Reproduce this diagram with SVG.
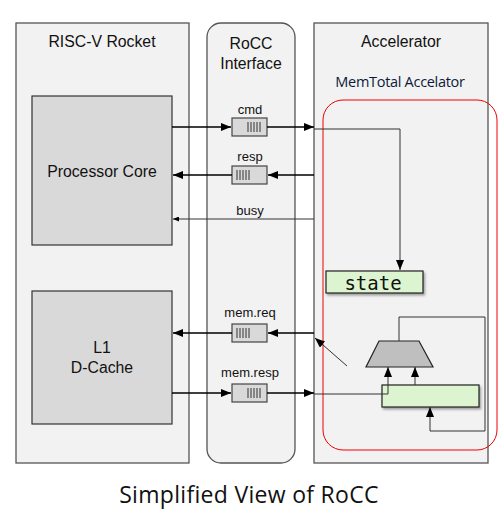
<svg xmlns="http://www.w3.org/2000/svg" width="498" height="525" viewBox="0 0 498 525">
<defs>
<marker id="ah" markerWidth="10" markerHeight="8" refX="10" refY="4" orient="auto" markerUnits="userSpaceOnUse"><path d="M0,0 L10,4 L0,8 Z" fill="#000"/></marker>
<marker id="ahs" markerWidth="6" markerHeight="5" refX="6" refY="2.5" orient="auto" markerUnits="userSpaceOnUse"><path d="M0,0 L6,2.5 L0,5 Z" fill="#000"/></marker>
<filter id="sh" x="-10%" y="-20%" width="130%" height="160%"><feDropShadow dx="1.5" dy="2" stdDeviation="1.2" flood-color="#000" flood-opacity="0.35"/></filter>
</defs>
<style>
.panel{fill:#f2f2f2;stroke:#555;stroke-width:1.3}
.blk{fill:#d9d9d9;stroke:#333;stroke-width:1.2}
.q{fill:#d9d9d9;stroke:#444;stroke-width:1.2}
.bar{stroke:#333;stroke-width:1}
.t{font-family:"Liberation Sans",Arial,sans-serif;fill:#111;text-anchor:middle}
.big{font-size:15.8px}
.sm{font-size:13px}
.w{stroke:#000;stroke-width:1.6;fill:none}
.thin{stroke:#333;stroke-width:1;fill:none}
.grn{fill:#dcf5d0;stroke:#222;stroke-width:1.2}
</style>
<g id="rocket">
<rect class="panel" x="16" y="23" width="173" height="440"/>
<text class="t big" x="102" y="47">RISC-V Rocket</text>
</g>
<g id="rocc">
<rect class="panel" x="207" y="23" width="88" height="440" rx="14"/>
<text class="t big" x="251" y="49">RoCC</text>
<text class="t big" x="251" y="69">Interface</text>
</g>
<g id="accelerator">
<rect class="panel" x="314" y="23" width="174" height="440"/>
<text class="t big" x="401" y="47">Accelerator</text>
<text x="400" y="87" font-family="'Open Sans','Noto Sans',sans-serif" font-size="14.5" fill="#0a1a3a" text-anchor="middle" letter-spacing="-0.3">MemTotal Accelator</text>
</g>
<g id="memtotal">
<rect x="323" y="100" width="174" height="350" rx="20" fill="none" stroke="#e00" stroke-width="1"/>
</g>
<g id="core">
<rect class="blk" x="32" y="96" width="140" height="149"/>
<text class="t big" x="102" y="177">Processor Core</text>
</g>
<g id="dcache">
<rect class="blk" x="32" y="291" width="140" height="133"/>
<text class="t big" x="102" y="353">L1</text>
<text class="t big" x="102" y="373">D-Cache</text>
</g>
<g id="cmd">
<text class="t sm" x="250" y="114">cmd</text>
<rect class="q" x="232" y="118" width="35" height="18"/>
<path class="bar" d="M248,122V132M251,122V132M254,122V132M257,122V132M260,122V132"/>
</g>
<g id="resp">
<text class="t sm" x="250" y="161">resp</text>
<rect class="q" x="232" y="166" width="35" height="18"/>
<path class="bar" d="M237,170V180M240,170V180M243,170V180M246,170V180M249,170V180"/>
</g>
<g id="busy">
<text class="t sm" x="250" y="215">busy</text>
</g>
<g id="memreq">
<text class="t sm" x="250" y="317">mem.req</text>
<rect class="q" x="232" y="324" width="35" height="18"/>
<path class="bar" d="M237,328V338M240,328V338M243,328V338M246,328V338M249,328V338"/>
</g>
<g id="memresp">
<text class="t sm" x="250" y="377">mem.resp</text>
<rect class="q" x="232" y="384" width="35" height="18"/>
<path class="bar" d="M248,388V398M251,388V398M254,388V398M257,388V398M260,388V398"/>
</g>
<g id="state">
<rect class="grn" x="326" y="271" width="97" height="22" filter="url(#sh)"/>
<text x="373" y="290" font-family="'DejaVu Sans Mono','Liberation Mono',monospace" font-size="19" fill="#111" text-anchor="middle">state</text>
</g>
<g id="mux">
<path d="M379,341 L419,341 L433,367 L366,367 Z" fill="#bfbfbf" stroke="#222" stroke-width="1.2"/>
</g>
<g id="reg">
<rect class="grn" x="382" y="385" width="97" height="22" filter="url(#sh)"/>
</g>
<g id="connectors">
<line class="w" x1="172" y1="127" x2="231" y2="127" marker-end="url(#ah)"/>
<line class="w" x1="267" y1="127" x2="314" y2="127" marker-end="url(#ah)"/>
<polyline class="thin" points="314,129 400,129 400,270" marker-end="url(#ah)"/>
<line class="w" x1="314" y1="175" x2="268" y2="175" marker-end="url(#ah)"/>
<line class="w" x1="232" y1="175" x2="173" y2="175" marker-end="url(#ah)"/>
<line class="thin" x1="314" y1="219" x2="173" y2="219" marker-end="url(#ahs)"/>
<line class="w" x1="314" y1="333" x2="268" y2="333" marker-end="url(#ah)"/>
<line class="w" x1="232" y1="333" x2="173" y2="333" marker-end="url(#ah)"/>
<line class="w" x1="172" y1="393" x2="231" y2="393" marker-end="url(#ah)"/>
<line class="w" x1="267" y1="393" x2="314" y2="393" marker-end="url(#ah)"/>
<polyline class="thin" points="314,394 388,394 388,367" marker-end="url(#ah)"/>
<line class="thin" x1="415" y1="385" x2="415" y2="367" marker-end="url(#ah)"/>
<polyline class="thin" points="399,341 399,317 485,317 485,431 430,431 430,407" marker-end="url(#ah)"/>
<line class="thin" x1="347" y1="366" x2="315" y2="338" marker-end="url(#ah)"/>
</g>
<text x="249" y="503" font-family="'Open Sans','Noto Sans',sans-serif" font-size="23" fill="#111" text-anchor="middle" letter-spacing="0.3">Simplified View of RoCC</text>
</svg>
